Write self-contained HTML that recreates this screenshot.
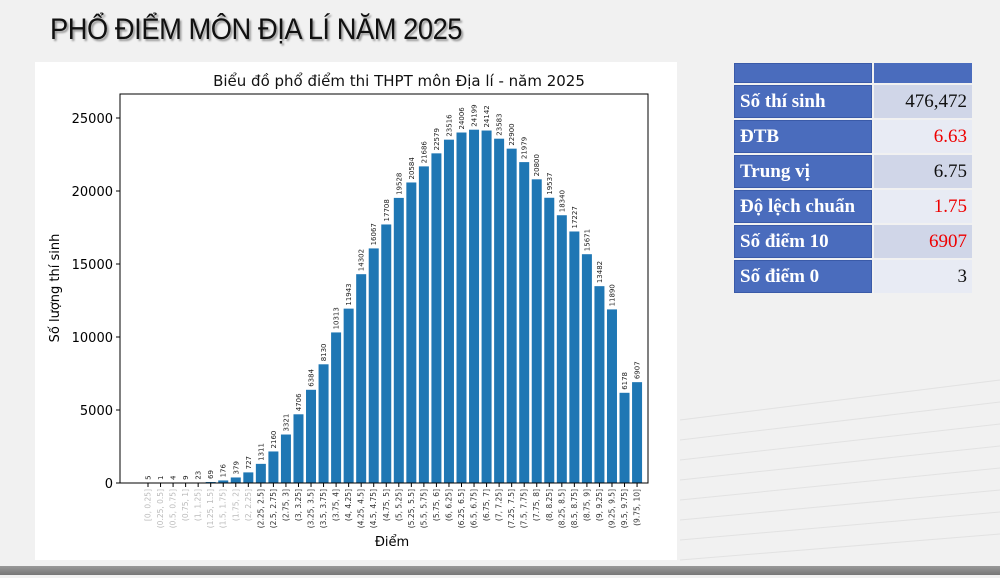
<!DOCTYPE html>
<html><head><meta charset="utf-8"><style>
body{margin:0;width:1000px;height:578px;background:#f1f1f1;position:relative;overflow:hidden;font-family:"DejaVu Sans","Liberation Sans",sans-serif}
#h{position:absolute;left:50px;top:13px;font:30px "Liberation Sans",sans-serif;color:#111;text-shadow:2px 2px 2px #999;letter-spacing:-0.5px;transform:scaleX(0.91);transform-origin:left top}
#panel{position:absolute;left:35px;top:62px;width:642px;height:498px;background:#fff}
#band{position:absolute;left:0;top:566px;width:1000px;height:9px;background:linear-gradient(#999,#777)}
table{position:absolute;left:732px;top:61px;border-collapse:separate;border-spacing:2px;font-family:"Liberation Serif",serif;font-size:19px}
td{height:31px;padding:0 5px}
td.k{background:#4a6cbd;color:#fff;font-weight:bold;width:126px;border:1px solid #3a5aa8}
td.v{text-align:right;width:88px;color:#111}
tr.a td.v{background:#d0d6e8}tr.b td.v{background:#e8ebf4}
.r{color:#e00 !important}
</style></head><body>
<div id="h">PHỔ ĐIỂM MÔN ĐỊA LÍ NĂM 2025</div>
<div id="panel"></div>
<div id="band"></div>
<svg id="s" width="1000" height="578" style="position:absolute;left:0;top:0"></svg>
<table>
<tr><td class="k" style="height:18px"></td><td class="v" style="background:#4a6cbd;height:18px"></td></tr>
<tr class="a"><td class="k">Số thí sinh</td><td class="v">476,472</td></tr>
<tr class="b"><td class="k">ĐTB</td><td class="v r">6.63</td></tr>
<tr class="a"><td class="k">Trung vị</td><td class="v">6.75</td></tr>
<tr class="b"><td class="k">Độ lệch chuẩn</td><td class="v r">1.75</td></tr>
<tr class="a"><td class="k">Số điểm 10</td><td class="v r">6907</td></tr>
<tr class="b"><td class="k">Số điểm 0</td><td class="v">3</td></tr>
</table>
<script>
var d=[5,1,4,9,23,69,176,379,727,1311,2160,3321,4706,6384,8130,10313,11943,14302,16067,17708,19528,20584,21686,22579,23516,24006,24199,24142,23583,22900,21979,20800,19537,18340,17227,15671,13482,11890,6178,6907];
function lab(i){var a=i*0.25,b=a+0.25;function f(x){return (+x.toFixed(2)).toString()}return (i==0?"[":"(")+f(a)+", "+f(b)+"]";}
var s='';
var L=120,R=648,T=94,B=483,k=365/25000;
for(var g=0;g<8;g++){s+='<line x1="680" y1="'+(420+g*20)+'" x2="1000" y2="'+(380+g*22)+'" stroke="#e2e2e2"/>';}
s+='<text x="399" y="86" font-size="15" text-anchor="middle" fill="#111">Biểu đồ phổ điểm thi THPT môn Địa lí - năm 2025</text>';
for(var v=0;v<=25000;v+=5000){var y=B-v*k;s+='<line x1="'+(L-4)+'" y1="'+y+'" x2="'+L+'" y2="'+y+'" stroke="#000"/><text x="'+(L-7)+'" y="'+(y+5)+'" font-size="13" text-anchor="end">'+v+'</text>';}
for(var i=0;i<40;i++){var cx=148+i*12.54,h=d[i]*k;
s+='<rect x="'+(cx-5)+'" y="'+(B-h)+'" width="10" height="'+h+'" fill="#1f77b4"/>';
s+='<text transform="translate('+(cx+2.5)+','+(B-h-3)+') rotate(-90)" font-size="7" fill="#222">'+d[i]+'</text>';
s+='<line x1="'+cx+'" y1="'+B+'" x2="'+cx+'" y2="'+(B+4)+'" stroke="#000"/>';
s+='<text transform="translate('+(cx+2.5)+',489) rotate(-90)" font-size="7.5" text-anchor="end" fill="'+(i<9?'#bbb':'#333')+'">'+lab(i)+'</text>';}
s+='<rect x="'+L+'" y="'+T+'" width="'+(R-L)+'" height="'+(B-T)+'" fill="none" stroke="#000"/>';
s+='<text x="392" y="546" font-size="13" text-anchor="middle">Điểm</text>';
s+='<text transform="translate(59,288) rotate(-90)" font-size="13" text-anchor="middle">Số lượng thí sinh</text>';
document.getElementById('s').innerHTML=s;
</script>
</body></html>
